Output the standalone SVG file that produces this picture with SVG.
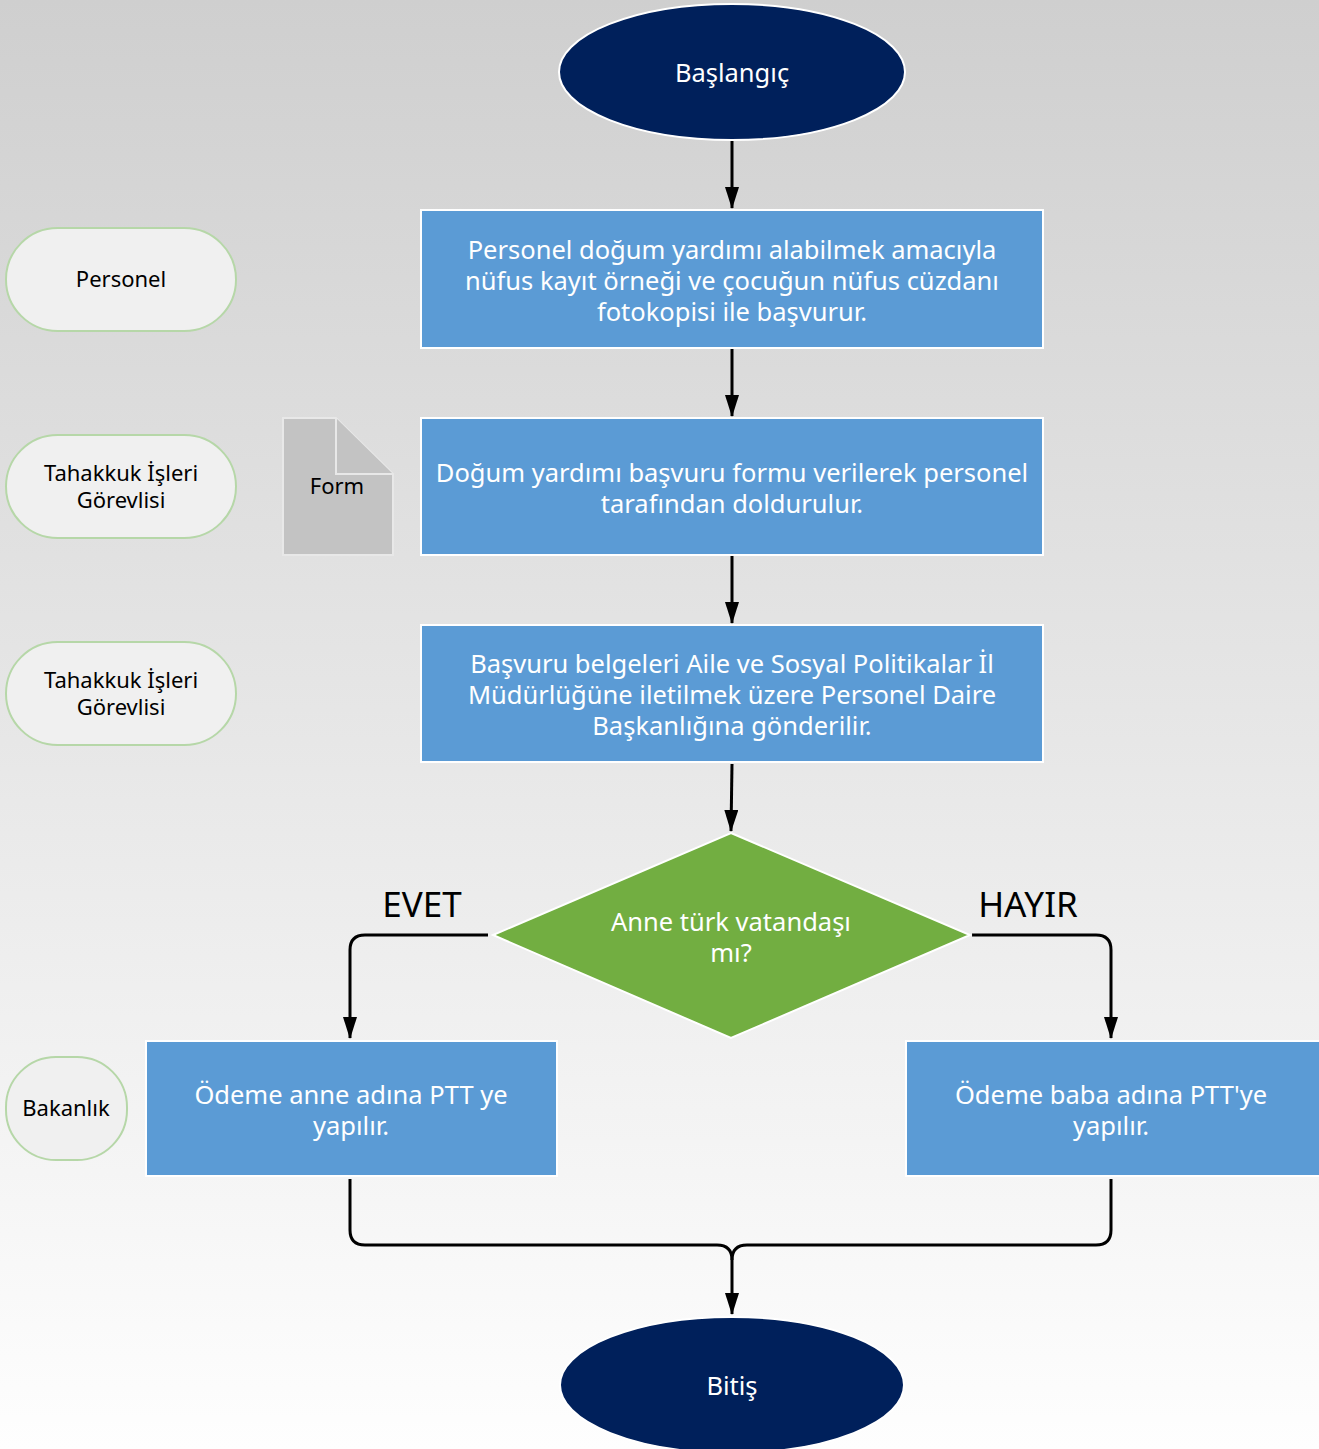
<svg xmlns="http://www.w3.org/2000/svg" width="1319" height="1449" viewBox="0 0 1319 1449">
<defs>
<linearGradient id="bg" x1="0" y1="0" x2="0" y2="1">
<stop offset="0" stop-color="#cfcfcf"/>
<stop offset="1" stop-color="#fefefe"/>
</linearGradient>
<marker id="arr" viewBox="0 0 22 14" refX="21" refY="7" markerWidth="22" markerHeight="14" markerUnits="userSpaceOnUse" orient="auto">
<path d="M0,0 L22,7 L0,14 Z" fill="#000"/>
</marker>
<style>
.term{fill:#00205b;stroke:#fff;stroke-width:2}
.proc{fill:#5b9bd5;stroke:#fff;stroke-width:2}
.dec{fill:#72ae41;stroke:#fff;stroke-width:2}
.role{fill:#f0f0f0;stroke:#b6d7a8;stroke-width:2}
.doc{fill:#c3c3c3;stroke:#e8e8e8;stroke-width:2}
.wt{font-family:"Noto Sans","Open Sans",sans-serif;font-size:25.5px;fill:#fff;text-anchor:middle}
.bt{font-family:"Noto Sans","Open Sans",sans-serif;font-size:22px;fill:#000;text-anchor:middle}
.lb{font-family:"Noto Sans","Open Sans",sans-serif;font-size:35px;fill:#000;text-anchor:middle}
.con{fill:none;stroke:#000;stroke-width:3}
</style>
</defs>
<rect x="0" y="0" width="1319" height="1449" fill="url(#bg)"/>

<g id="connectors">
<path class="con" d="M732,140 L732,208" marker-end="url(#arr)"/>
<path class="con" d="M732,348 L732,416" marker-end="url(#arr)"/>
<path class="con" d="M732,555 L732,623" marker-end="url(#arr)"/>
<path class="con" d="M732,764 L731,831" marker-end="url(#arr)"/>
<path class="con" d="M488,935 L365,935 Q350,935 350,950 L350,1038" marker-end="url(#arr)"/>
<path class="con" d="M972,935 L1096,935 Q1111,935 1111,950 L1111,1038" marker-end="url(#arr)"/>
<path class="con" d="M350,1179 L350,1230 Q350,1245 365,1245 L717,1245 Q732,1245 732,1260 L732,1314" marker-end="url(#arr)"/>
<path class="con" d="M1111,1179 L1111,1230 Q1111,1245 1096,1245 L747,1245 Q732,1245 732,1260"/>
<text class="lb" x="422" y="917">EVET</text>
<text class="lb" x="1028" y="917">HAYIR</text>
</g>

<g id="start">
<ellipse class="term" cx="732" cy="72" rx="173" ry="68"/>
<text class="wt" x="732" y="82">Başlangıç</text>
</g>

<g id="step1">
<rect class="proc" x="421" y="210" width="622" height="138"/>
<text class="wt" x="732" y="259">Personel doğum yardımı alabilmek amacıyla</text>
<text class="wt" x="732" y="290">nüfus kayıt örneği ve çocuğun nüfus cüzdanı</text>
<text class="wt" x="732" y="321">fotokopisi ile başvurur.</text>
</g>

<g id="step2">
<rect class="proc" x="421" y="418" width="622" height="137"/>
<text class="wt" x="732" y="482">Doğum yardımı başvuru formu verilerek personel</text>
<text class="wt" x="732" y="513">tarafından doldurulur.</text>
</g>

<g id="step3">
<rect class="proc" x="421" y="625" width="622" height="137"/>
<text class="wt" x="732" y="673">Başvuru belgeleri Aile ve Sosyal Politikalar İl</text>
<text class="wt" x="732" y="704">Müdürlüğüne iletilmek üzere Personel Daire</text>
<text class="wt" x="732" y="735">Başkanlığına gönderilir.</text>
</g>

<g id="decision">
<polygon class="dec" points="731,833 970,935 731,1038 493,935"/>
<text class="wt" x="731" y="931">Anne türk vatandaşı</text>
<text class="wt" x="731" y="962">mı?</text>
</g>

<g id="yes">
<rect class="proc" x="146" y="1041" width="411" height="135"/>
<text class="wt" x="351" y="1104">Ödeme anne adına PTT ye</text>
<text class="wt" x="351" y="1135">yapılır.</text>
</g>

<g id="no">
<rect class="proc" x="906" y="1041" width="414" height="135"/>
<text class="wt" x="1111" y="1104">Ödeme baba adına PTT'ye</text>
<text class="wt" x="1111" y="1135">yapılır.</text>
</g>

<g id="end">
<ellipse class="term" cx="732" cy="1385" rx="172" ry="68"/>
<text class="wt" x="732" y="1395">Bitiş</text>
</g>

<g id="role-personel">
<rect class="role" x="6" y="228" width="230" height="103" rx="51.5"/>
<text class="bt" x="121" y="287">Personel</text>
</g>

<g id="role-tahakkuk1">
<rect class="role" x="6" y="435" width="230" height="103" rx="51.5"/>
<text class="bt" x="121" y="481">Tahakkuk İşleri</text>
<text class="bt" x="121" y="508">Görevlisi</text>
</g>

<g id="role-tahakkuk2">
<rect class="role" x="6" y="642" width="230" height="103" rx="51.5"/>
<text class="bt" x="121" y="688">Tahakkuk İşleri</text>
<text class="bt" x="121" y="715">Görevlisi</text>
</g>

<g id="role-bakanlik">
<rect class="role" x="6" y="1057" width="121" height="103" rx="50"/>
<text class="bt" x="66" y="1116">Bakanlık</text>
</g>

<g id="form">
<path class="doc" d="M283,418 L336,418 L393,474 L393,555 L283,555 Z"/>
<path class="doc" d="M336,418 L336,474 L393,474"/>
<text class="bt" x="337" y="494">Form</text>
</g>
</svg>
